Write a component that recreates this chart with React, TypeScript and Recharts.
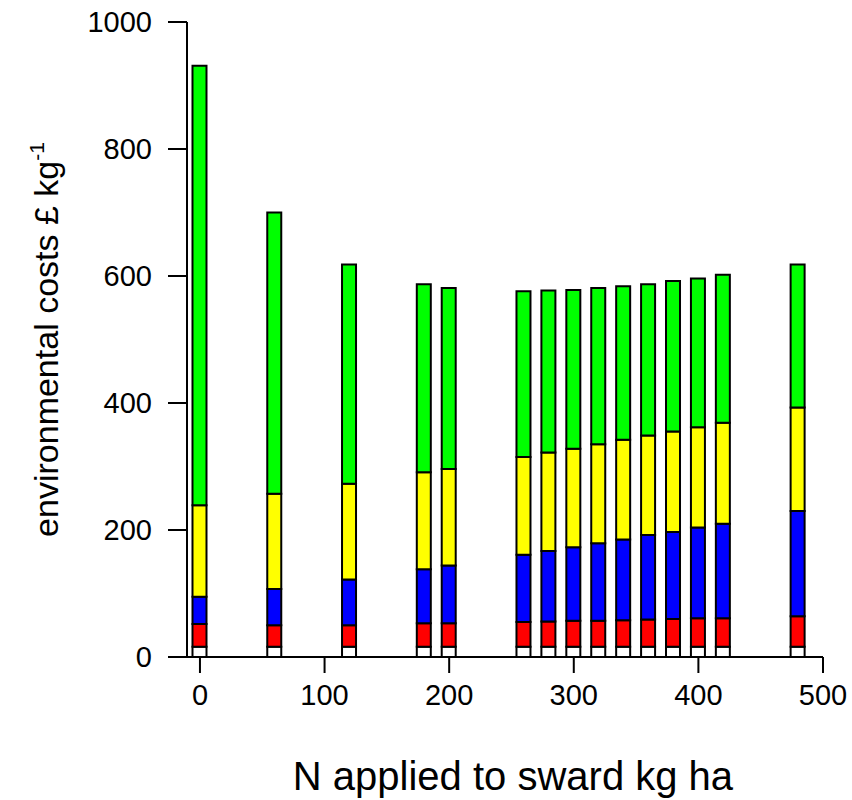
import { BarChart, Bar, XAxis, YAxis } from 'recharts'

// N rate applied to sward (kg/ha) and the cost split per bar (£/kg)
const nRates = [0, 60, 120, 180, 200, 260, 280, 300, 320, 340, 360, 380, 400, 420, 480]
const whiteCost = [16, 16, 16, 16, 16, 16, 16, 16, 16, 16, 16, 16, 16, 16, 16]
const redCost = [36, 34, 34, 37, 37, 39, 40, 41, 41, 42, 43, 44, 45, 45, 48]
const blueCost = [43, 57, 72, 85, 91, 106, 111, 116, 122, 127, 133, 137, 143, 149, 166]
const yellowCost = [144, 150, 151, 153, 152, 154, 155, 155, 156, 157, 157, 158, 158, 159, 163]
const greenCost = [692, 443, 345, 296, 285, 261, 255, 250, 246, 242, 238, 237, 234, 233, 225]

const xTicks = [0, 100, 200, 300, 400, 500]
const yTicks = [0, 200, 400, 600, 800, 1000]

const rows = nRates.map((n, i) => ({
  n,
  white: whiteCost[i],
  red: redCost[i],
  blue: blueCost[i],
  yellow: yellowCost[i],
  green: greenCost[i],
}))

const FONT = '"Liberation Sans", Arial, Helvetica, sans-serif'

function YLabel(props: any) {
  const vb = props.viewBox || { x: 0, y: 22, width: 187, height: 635 }
  const cx = vb.x + 58
  const cy = vb.y + vb.height / 2
  return (
    <text
      x={cx}
      y={cy}
      transform={`rotate(-90, ${cx}, ${cy})`}
      textAnchor="middle"
      fontSize={34}
      fontFamily={FONT}
      fill="#000"
    >
      environmental costs £ kg
      <tspan dy={-14} fontSize={21}>
        -1
      </tspan>
    </text>
  )
}

export default function App() {
  const tick = { fontSize: 29, fill: '#000', fontFamily: FONT }
  return (
    <div style={{ position: 'absolute', left: 0, top: 0, background: '#fff' }}>
      <BarChart
        width={852}
        height={800}
        data={rows}
        margin={{ top: 22, right: 29, bottom: 0, left: 0 }}
      >
        <XAxis
          dataKey="n"
          type="number"
          domain={[-10.4, 500]}
          allowDataOverflow
          ticks={xTicks}
          interval={0}
          height={143}
          tick={tick}
          tickSize={16}
          tickMargin={11}
          axisLine={{ stroke: '#000', strokeWidth: 2 }}
          tickLine={{ stroke: '#000', strokeWidth: 2 }}
          label={{
            value: 'N applied to sward kg ha',
            position: 'insideBottom',
            offset: 10,
            dx: 8,
            style: { fontSize: 40, fill: '#000', fontFamily: FONT },
          }}
        />
        <XAxis
          xAxisId="top"
          orientation="top"
          type="number"
          domain={[-10.4, 500]}
          allowDataOverflow
          height={0}
          tick={false}
          tickLine={false}
          axisLine={{ stroke: '#000', strokeWidth: 2 }}
        />
        <YAxis
          type="number"
          domain={[0, 1000]}
          ticks={yTicks}
          interval={0}
          width={187}
          tick={tick}
          tickSize={19}
          tickMargin={16}
          axisLine={{ stroke: '#000', strokeWidth: 2 }}
          tickLine={{ stroke: '#000', strokeWidth: 2 }}
          label={{ content: (p: any) => <YLabel {...p} /> }}
        />
        <YAxis
          yAxisId="right"
          orientation="right"
          domain={[0, 1000]}
          width={0}
          tick={false}
          tickLine={false}
          axisLine={{ stroke: '#000', strokeWidth: 2 }}
        />
        <Bar dataKey="white" stackId="a" barSize={14} fill="#ffffff" stroke="#000" strokeWidth={2} isAnimationActive={false} />
        <Bar dataKey="red" stackId="a" barSize={14} fill="#ff0000" stroke="#000" strokeWidth={2} isAnimationActive={false} />
        <Bar dataKey="blue" stackId="a" barSize={14} fill="#0000ff" stroke="#000" strokeWidth={2} isAnimationActive={false} />
        <Bar dataKey="yellow" stackId="a" barSize={14} fill="#ffff00" stroke="#000" strokeWidth={2} isAnimationActive={false} />
        <Bar dataKey="green" stackId="a" barSize={14} fill="#00ff00" stroke="#000" strokeWidth={2} isAnimationActive={false} />
      </BarChart>
    </div>
  )
}
